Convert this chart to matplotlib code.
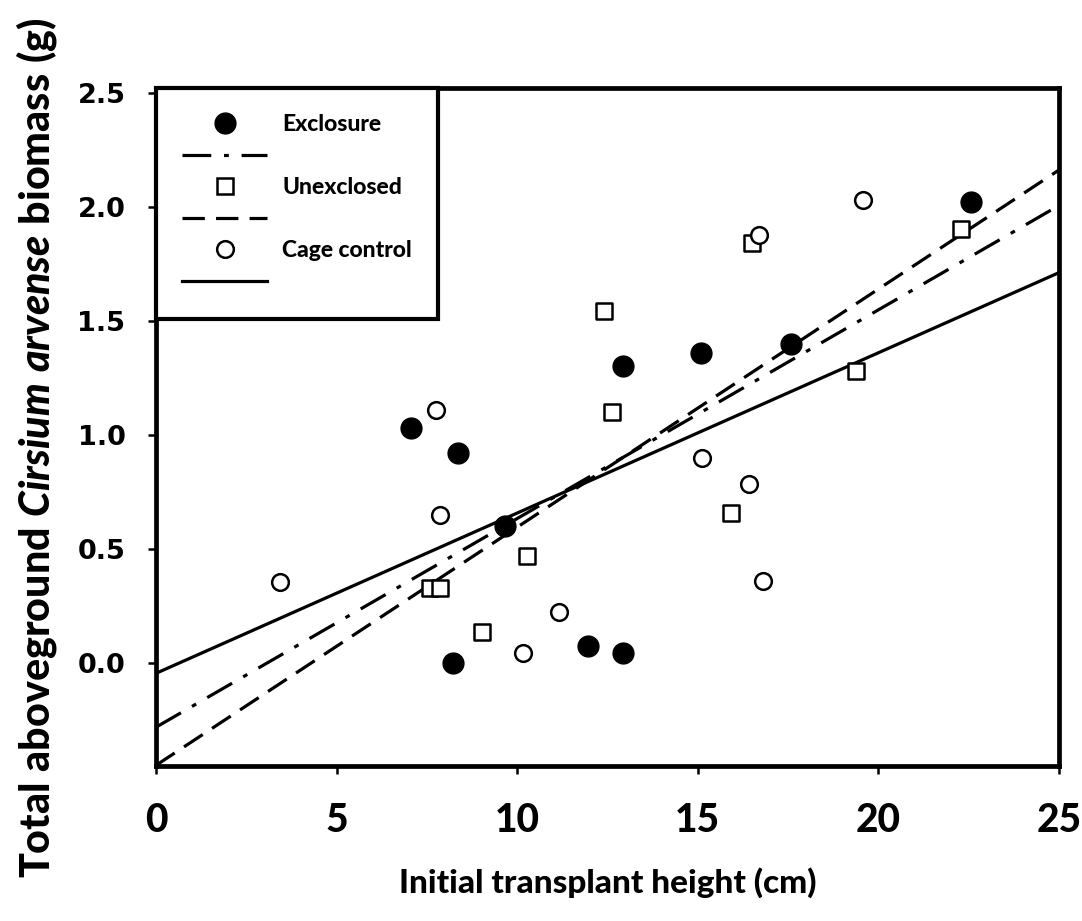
import matplotlib
matplotlib.use("Agg")
import matplotlib.pyplot as plt
from matplotlib.lines import Line2D
import numpy as np

# Exclosure plots (filled circles)
excl_x = [7.06, 8.36, 9.66, 8.22, 11.96, 12.93, 12.93, 15.09, 17.58, 22.56]
excl_y = [1.03, 0.92, 0.60, 0.00, 0.075, 0.045, 1.30, 1.36, 1.40, 2.02]

# Unexclosed plots (open squares)
unex_x = [12.40, 12.62, 10.27, 7.59, 7.86, 9.03, 15.92, 16.50, 19.38, 22.29]
unex_y = [1.545, 1.10, 0.47, 0.33, 0.33, 0.135, 0.66, 1.84, 1.28, 1.90]

# Cage control plots (open circles)
cage_x = [3.43, 7.75, 7.86, 10.16, 11.16, 15.12, 16.42, 16.81, 16.70, 19.58]
cage_y = [0.355, 1.11, 0.65, 0.045, 0.225, 0.90, 0.785, 0.36, 1.875, 2.03]

# Linear fits: intercept, slope
excl_fit = [-0.28, 0.0914]
unex_fit = [-0.447, 0.1043]
cage_fit = [-0.044, 0.0702]

x_ticks = [0, 5, 10, 15, 20, 25]
y_ticks = [0.0, 0.5, 1.0, 1.5, 2.0, 2.5]
y_tick_labels = ["0.0", "0.5", "1.0", "1.5", "2.0", "2.5"]

HEAVY = 900

plt.rcParams["mathtext.fontset"] = "custom"
plt.rcParams["mathtext.rm"] = "Lato:black"
plt.rcParams["mathtext.bf"] = "Lato:black"
plt.rcParams["mathtext.it"] = "Lato:italic:black"

fig = plt.figure(figsize=(10.82, 9.21), dpi=100)
ax = fig.add_axes([0.1442, 0.1683, 0.9787 - 0.1442, 0.9045 - 0.1683])

lw_fit = 2.3
xs = np.array([0.0, 25.0])
ax.plot(xs, excl_fit[0] + excl_fit[1] * xs, color="black", lw=lw_fit,
        dashes=(9, 4, 1.5, 4), zorder=2)
ax.plot(xs, unex_fit[0] + unex_fit[1] * xs, color="black", lw=lw_fit,
        dashes=(7, 3.5), zorder=2)
ax.plot(xs, cage_fit[0] + cage_fit[1] * xs, color="black", lw=lw_fit,
        linestyle="-", zorder=2)

ax.scatter(excl_x, excl_y, s=15 ** 2, marker="o", facecolor="black",
           edgecolor="black", zorder=3)
ax.scatter(unex_x, unex_y, s=11 ** 2, marker="s", facecolor="white",
           edgecolor="black", linewidths=1.8, zorder=4)
ax.scatter(cage_x, cage_y, s=12 ** 2, marker="o", facecolor="white",
           edgecolor="black", linewidths=1.8, zorder=4)

ax.set_xlim(0, 25)
ax.set_ylim(-0.45, 2.52)
ax.set_xticks(x_ticks)
ax.set_yticks(y_ticks)
ax.set_yticklabels(y_tick_labels)

for s in ax.spines.values():
    s.set_linewidth(3.4)
    s.set_color("black")

ax.tick_params(axis="both", direction="out", length=6, width=1.8, color="black")
ax.tick_params(axis="y", pad=16)
ax.tick_params(axis="x", pad=20)
for t in ax.get_yticklabels():
    t.set_fontfamily("DejaVu Sans")
    t.set_fontweight("bold")
    t.set_fontsize(19.5)
for t in ax.get_xticklabels():
    t.set_fontfamily("Lato")
    t.set_fontweight(HEAVY)
    t.set_fontsize(28)

ax.set_xlabel("Initial transplant height (cm)", fontfamily="Lato",
              fontweight=HEAVY, fontsize=24, labelpad=20)
ax.set_ylabel(r"$\mathbf{Total\ aboveground\ }\mathit{Cirsium\ arvense}"
              r"\mathbf{\ biomass\ (g)}$",
              fontfamily="Lato", fontsize=29.7)
ax.yaxis.set_label_coords(-0.108, 0.47)

# Legend: marker row with label, followed by the fit-line row
h_excl = Line2D([], [], marker="o", markersize=15, markerfacecolor="black",
                markeredgecolor="black", linestyle="none")
h_unex = Line2D([], [], marker="s", markersize=11, markerfacecolor="white",
                markeredgecolor="black", markeredgewidth=1.8, linestyle="none")
h_cage = Line2D([], [], marker="o", markersize=12, markerfacecolor="white",
                markeredgecolor="black", markeredgewidth=1.8, linestyle="none")
hl_excl = Line2D([], [], color="black", lw=lw_fit, dashes=(9, 4, 1.5, 4))
hl_unex = Line2D([], [], color="black", lw=lw_fit, dashes=(7, 3.5))
hl_cage = Line2D([], [], color="black", lw=lw_fit, linestyle="-")

leg = ax.legend([h_excl, hl_excl, h_unex, hl_unex, h_cage, hl_cage],
                ["Exclosure", "", "Unexclosed", "", "Cage control", ""],
                loc="upper left", bbox_to_anchor=(0, 1), borderaxespad=0,
                prop={"family": "Lato", "weight": HEAVY, "size": 16.5},
                handlelength=3.7, handletextpad=0.65, labelspacing=0.46,
                borderpad=1.15, fancybox=False, framealpha=1,
                edgecolor="black", facecolor="white")
leg.get_frame().set_linewidth(3.0)
leg.set_zorder(5)

fig.savefig("out.png", dpi=100, facecolor="white")
